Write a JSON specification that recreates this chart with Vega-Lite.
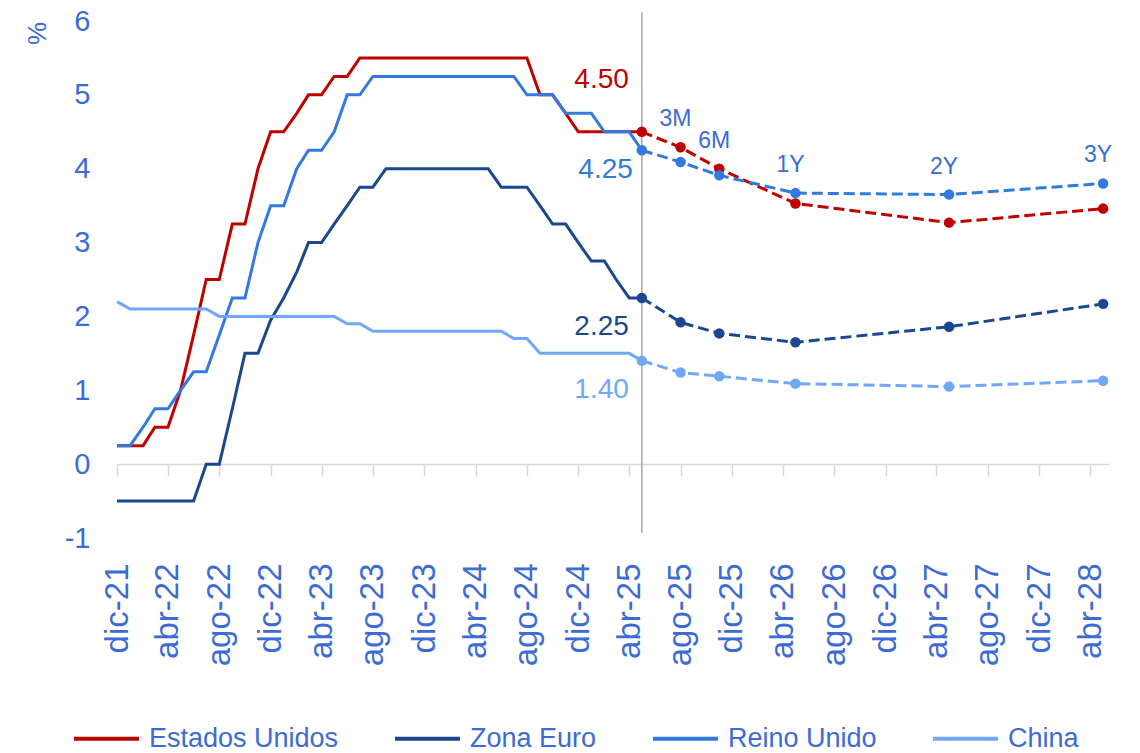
{
  "$schema": "https://vega.github.io/schema/vega-lite/v6.json",
  "width": 992,
  "height": 517,
  "autosize": {"type": "none"},
  "padding": {"left": 117, "top": 21, "right": 31, "bottom": 215},
  "background": "white",
  "config": {
    "font": "Liberation Sans",
    "view": {"stroke": null},
    "legend": {
      "orient": "none", "legendX": -45, "legendY": 683, "direction": "horizontal",
      "symbolType": "stroke", "symbolSize": 4225, "symbolStrokeWidth": 4,
      "labelFontSize": 27, "labelColor": "#3C6BD5", "labelOffset": 8,
      "columnPadding": 48, "labelLimit": 400
    }
  },
  "datasets": {
    "vline": [{"d": "2025-05-01", "v": 6.12, "v2": -0.93}],
    "hist": [
      {"d":"2021-12-01","s":"Estados Unidos","v":0.25},{"d":"2021-12-01","s":"Zona Euro","v":-0.5},{"d":"2021-12-01","s":"Reino Unido","v":0.25},{"d":"2021-12-01","s":"China","v":2.2},
      {"d":"2022-01-01","s":"Estados Unidos","v":0.25},{"d":"2022-01-01","s":"Zona Euro","v":-0.5},{"d":"2022-01-01","s":"Reino Unido","v":0.25},{"d":"2022-01-01","s":"China","v":2.1},
      {"d":"2022-02-01","s":"Estados Unidos","v":0.25},{"d":"2022-02-01","s":"Zona Euro","v":-0.5},{"d":"2022-02-01","s":"Reino Unido","v":0.5},{"d":"2022-02-01","s":"China","v":2.1},
      {"d":"2022-03-01","s":"Estados Unidos","v":0.5},{"d":"2022-03-01","s":"Zona Euro","v":-0.5},{"d":"2022-03-01","s":"Reino Unido","v":0.75},{"d":"2022-03-01","s":"China","v":2.1},
      {"d":"2022-04-01","s":"Estados Unidos","v":0.5},{"d":"2022-04-01","s":"Zona Euro","v":-0.5},{"d":"2022-04-01","s":"Reino Unido","v":0.75},{"d":"2022-04-01","s":"China","v":2.1},
      {"d":"2022-05-01","s":"Estados Unidos","v":1.0},{"d":"2022-05-01","s":"Zona Euro","v":-0.5},{"d":"2022-05-01","s":"Reino Unido","v":1.0},{"d":"2022-05-01","s":"China","v":2.1},
      {"d":"2022-06-01","s":"Estados Unidos","v":1.75},{"d":"2022-06-01","s":"Zona Euro","v":-0.5},{"d":"2022-06-01","s":"Reino Unido","v":1.25},{"d":"2022-06-01","s":"China","v":2.1},
      {"d":"2022-07-01","s":"Estados Unidos","v":2.5},{"d":"2022-07-01","s":"Zona Euro","v":0.0},{"d":"2022-07-01","s":"Reino Unido","v":1.25},{"d":"2022-07-01","s":"China","v":2.1},
      {"d":"2022-08-01","s":"Estados Unidos","v":2.5},{"d":"2022-08-01","s":"Zona Euro","v":0.0},{"d":"2022-08-01","s":"Reino Unido","v":1.75},{"d":"2022-08-01","s":"China","v":2.0},
      {"d":"2022-09-01","s":"Estados Unidos","v":3.25},{"d":"2022-09-01","s":"Zona Euro","v":0.75},{"d":"2022-09-01","s":"Reino Unido","v":2.25},{"d":"2022-09-01","s":"China","v":2.0},
      {"d":"2022-10-01","s":"Estados Unidos","v":3.25},{"d":"2022-10-01","s":"Zona Euro","v":1.5},{"d":"2022-10-01","s":"Reino Unido","v":2.25},{"d":"2022-10-01","s":"China","v":2.0},
      {"d":"2022-11-01","s":"Estados Unidos","v":4.0},{"d":"2022-11-01","s":"Zona Euro","v":1.5},{"d":"2022-11-01","s":"Reino Unido","v":3.0},{"d":"2022-11-01","s":"China","v":2.0},
      {"d":"2022-12-01","s":"Estados Unidos","v":4.5},{"d":"2022-12-01","s":"Zona Euro","v":1.95},{"d":"2022-12-01","s":"Reino Unido","v":3.5},{"d":"2022-12-01","s":"China","v":2.0},
      {"d":"2023-01-01","s":"Estados Unidos","v":4.5},{"d":"2023-01-01","s":"Zona Euro","v":2.25},{"d":"2023-01-01","s":"Reino Unido","v":3.5},{"d":"2023-01-01","s":"China","v":2.0},
      {"d":"2023-02-01","s":"Estados Unidos","v":4.75},{"d":"2023-02-01","s":"Zona Euro","v":2.6},{"d":"2023-02-01","s":"Reino Unido","v":4.0},{"d":"2023-02-01","s":"China","v":2.0},
      {"d":"2023-03-01","s":"Estados Unidos","v":5.0},{"d":"2023-03-01","s":"Zona Euro","v":3.0},{"d":"2023-03-01","s":"Reino Unido","v":4.25},{"d":"2023-03-01","s":"China","v":2.0},
      {"d":"2023-04-01","s":"Estados Unidos","v":5.0},{"d":"2023-04-01","s":"Zona Euro","v":3.0},{"d":"2023-04-01","s":"Reino Unido","v":4.25},{"d":"2023-04-01","s":"China","v":2.0},
      {"d":"2023-05-01","s":"Estados Unidos","v":5.25},{"d":"2023-05-01","s":"Zona Euro","v":3.25},{"d":"2023-05-01","s":"Reino Unido","v":4.5},{"d":"2023-05-01","s":"China","v":2.0},
      {"d":"2023-06-01","s":"Estados Unidos","v":5.25},{"d":"2023-06-01","s":"Zona Euro","v":3.5},{"d":"2023-06-01","s":"Reino Unido","v":5.0},{"d":"2023-06-01","s":"China","v":1.9},
      {"d":"2023-07-01","s":"Estados Unidos","v":5.5},{"d":"2023-07-01","s":"Zona Euro","v":3.75},{"d":"2023-07-01","s":"Reino Unido","v":5.0},{"d":"2023-07-01","s":"China","v":1.9},
      {"d":"2023-08-01","s":"Estados Unidos","v":5.5},{"d":"2023-08-01","s":"Zona Euro","v":3.75},{"d":"2023-08-01","s":"Reino Unido","v":5.25},{"d":"2023-08-01","s":"China","v":1.8},
      {"d":"2023-09-01","s":"Estados Unidos","v":5.5},{"d":"2023-09-01","s":"Zona Euro","v":4.0},{"d":"2023-09-01","s":"Reino Unido","v":5.25},{"d":"2023-09-01","s":"China","v":1.8},
      {"d":"2023-10-01","s":"Estados Unidos","v":5.5},{"d":"2023-10-01","s":"Zona Euro","v":4.0},{"d":"2023-10-01","s":"Reino Unido","v":5.25},{"d":"2023-10-01","s":"China","v":1.8},
      {"d":"2023-11-01","s":"Estados Unidos","v":5.5},{"d":"2023-11-01","s":"Zona Euro","v":4.0},{"d":"2023-11-01","s":"Reino Unido","v":5.25},{"d":"2023-11-01","s":"China","v":1.8},
      {"d":"2023-12-01","s":"Estados Unidos","v":5.5},{"d":"2023-12-01","s":"Zona Euro","v":4.0},{"d":"2023-12-01","s":"Reino Unido","v":5.25},{"d":"2023-12-01","s":"China","v":1.8},
      {"d":"2024-01-01","s":"Estados Unidos","v":5.5},{"d":"2024-01-01","s":"Zona Euro","v":4.0},{"d":"2024-01-01","s":"Reino Unido","v":5.25},{"d":"2024-01-01","s":"China","v":1.8},
      {"d":"2024-02-01","s":"Estados Unidos","v":5.5},{"d":"2024-02-01","s":"Zona Euro","v":4.0},{"d":"2024-02-01","s":"Reino Unido","v":5.25},{"d":"2024-02-01","s":"China","v":1.8},
      {"d":"2024-03-01","s":"Estados Unidos","v":5.5},{"d":"2024-03-01","s":"Zona Euro","v":4.0},{"d":"2024-03-01","s":"Reino Unido","v":5.25},{"d":"2024-03-01","s":"China","v":1.8},
      {"d":"2024-04-01","s":"Estados Unidos","v":5.5},{"d":"2024-04-01","s":"Zona Euro","v":4.0},{"d":"2024-04-01","s":"Reino Unido","v":5.25},{"d":"2024-04-01","s":"China","v":1.8},
      {"d":"2024-05-01","s":"Estados Unidos","v":5.5},{"d":"2024-05-01","s":"Zona Euro","v":4.0},{"d":"2024-05-01","s":"Reino Unido","v":5.25},{"d":"2024-05-01","s":"China","v":1.8},
      {"d":"2024-06-01","s":"Estados Unidos","v":5.5},{"d":"2024-06-01","s":"Zona Euro","v":3.75},{"d":"2024-06-01","s":"Reino Unido","v":5.25},{"d":"2024-06-01","s":"China","v":1.8},
      {"d":"2024-07-01","s":"Estados Unidos","v":5.5},{"d":"2024-07-01","s":"Zona Euro","v":3.75},{"d":"2024-07-01","s":"Reino Unido","v":5.25},{"d":"2024-07-01","s":"China","v":1.7},
      {"d":"2024-08-01","s":"Estados Unidos","v":5.5},{"d":"2024-08-01","s":"Zona Euro","v":3.75},{"d":"2024-08-01","s":"Reino Unido","v":5.0},{"d":"2024-08-01","s":"China","v":1.7},
      {"d":"2024-09-01","s":"Estados Unidos","v":5.0},{"d":"2024-09-01","s":"Zona Euro","v":3.5},{"d":"2024-09-01","s":"Reino Unido","v":5.0},{"d":"2024-09-01","s":"China","v":1.5},
      {"d":"2024-10-01","s":"Estados Unidos","v":5.0},{"d":"2024-10-01","s":"Zona Euro","v":3.25},{"d":"2024-10-01","s":"Reino Unido","v":5.0},{"d":"2024-10-01","s":"China","v":1.5},
      {"d":"2024-11-01","s":"Estados Unidos","v":4.75},{"d":"2024-11-01","s":"Zona Euro","v":3.25},{"d":"2024-11-01","s":"Reino Unido","v":4.75},{"d":"2024-11-01","s":"China","v":1.5},
      {"d":"2024-12-01","s":"Estados Unidos","v":4.5},{"d":"2024-12-01","s":"Zona Euro","v":3.0},{"d":"2024-12-01","s":"Reino Unido","v":4.75},{"d":"2024-12-01","s":"China","v":1.5},
      {"d":"2025-01-01","s":"Estados Unidos","v":4.5},{"d":"2025-01-01","s":"Zona Euro","v":2.75},{"d":"2025-01-01","s":"Reino Unido","v":4.75},{"d":"2025-01-01","s":"China","v":1.5},
      {"d":"2025-02-01","s":"Estados Unidos","v":4.5},{"d":"2025-02-01","s":"Zona Euro","v":2.75},{"d":"2025-02-01","s":"Reino Unido","v":4.5},{"d":"2025-02-01","s":"China","v":1.5},
      {"d":"2025-03-01","s":"Estados Unidos","v":4.5},{"d":"2025-03-01","s":"Zona Euro","v":2.5},{"d":"2025-03-01","s":"Reino Unido","v":4.5},{"d":"2025-03-01","s":"China","v":1.5},
      {"d":"2025-04-01","s":"Estados Unidos","v":4.5},{"d":"2025-04-01","s":"Zona Euro","v":2.25},{"d":"2025-04-01","s":"Reino Unido","v":4.5},{"d":"2025-04-01","s":"China","v":1.5},
      {"d":"2025-05-01","s":"Estados Unidos","v":4.5},{"d":"2025-05-01","s":"Zona Euro","v":2.25},{"d":"2025-05-01","s":"Reino Unido","v":4.25},{"d":"2025-05-01","s":"China","v":1.4}
    ],
    "fcst": [
      {"d":"2025-05-01","p":"","s":"Estados Unidos","v":4.5},{"d":"2025-05-01","p":"","s":"Zona Euro","v":2.25},{"d":"2025-05-01","p":"","s":"Reino Unido","v":4.25},{"d":"2025-05-01","p":"","s":"China","v":1.4},
      {"d":"2025-08-01","p":"3M","s":"Estados Unidos","v":4.29},{"d":"2025-08-01","p":"3M","s":"Zona Euro","v":1.92},{"d":"2025-08-01","p":"3M","s":"Reino Unido","v":4.09},{"d":"2025-08-01","p":"3M","s":"China","v":1.24},
      {"d":"2025-11-01","p":"6M","s":"Estados Unidos","v":4.0},{"d":"2025-11-01","p":"6M","s":"Zona Euro","v":1.77},{"d":"2025-11-01","p":"6M","s":"Reino Unido","v":3.91},{"d":"2025-11-01","p":"6M","s":"China","v":1.19},
      {"d":"2026-05-01","p":"1Y","s":"Estados Unidos","v":3.53},{"d":"2026-05-01","p":"1Y","s":"Zona Euro","v":1.65},{"d":"2026-05-01","p":"1Y","s":"Reino Unido","v":3.67},{"d":"2026-05-01","p":"1Y","s":"China","v":1.09},
      {"d":"2027-05-01","p":"2Y","s":"Estados Unidos","v":3.27},{"d":"2027-05-01","p":"2Y","s":"Zona Euro","v":1.86},{"d":"2027-05-01","p":"2Y","s":"Reino Unido","v":3.65},{"d":"2027-05-01","p":"2Y","s":"China","v":1.05},
      {"d":"2028-05-01","p":"3Y","s":"Estados Unidos","v":3.46},{"d":"2028-05-01","p":"3Y","s":"Zona Euro","v":2.17},{"d":"2028-05-01","p":"3Y","s":"Reino Unido","v":3.8},{"d":"2028-05-01","p":"3Y","s":"China","v":1.13}
    ]
  },
  "encoding": {
    "x": {
      "field": "d", "type": "temporal",
      "scale": {"type": "utc", "domain": [{"year": 2021, "month": 12, "date": 1, "utc": true}, {"year": 2028, "month": 5, "date": 15, "utc": true}], "nice": false},
      "axis": {
        "title": null, "grid": false, "offset": -74,
        "domainColor": "#D9D9D9", "domainWidth": 1.5, "tickColor": "#D9D9D9", "tickWidth": 1.5, "tickSize": 12,
        "labelAngle": -90, "labelAlign": "right", "labelBaseline": "middle", "labelPadding": 87,
        "labelFontSize": 33, "labelColor": "#3C6BD5", "labelOverlap": false, "labelBound": false, "labelFlush": false,
        "values": [
          {"year":2021,"month":12,"date":1,"utc":true},{"year":2022,"month":4,"date":1,"utc":true},{"year":2022,"month":8,"date":1,"utc":true},
          {"year":2022,"month":12,"date":1,"utc":true},{"year":2023,"month":4,"date":1,"utc":true},{"year":2023,"month":8,"date":1,"utc":true},
          {"year":2023,"month":12,"date":1,"utc":true},{"year":2024,"month":4,"date":1,"utc":true},{"year":2024,"month":8,"date":1,"utc":true},
          {"year":2024,"month":12,"date":1,"utc":true},{"year":2025,"month":4,"date":1,"utc":true},{"year":2025,"month":8,"date":1,"utc":true},
          {"year":2025,"month":12,"date":1,"utc":true},{"year":2026,"month":4,"date":1,"utc":true},{"year":2026,"month":8,"date":1,"utc":true},
          {"year":2026,"month":12,"date":1,"utc":true},{"year":2027,"month":4,"date":1,"utc":true},{"year":2027,"month":8,"date":1,"utc":true},
          {"year":2027,"month":12,"date":1,"utc":true},{"year":2028,"month":4,"date":1,"utc":true}
        ],
        "labelExpr": "['ene','feb','mar','abr','may','jun','jul','ago','sep','oct','nov','dic'][utcmonth(datum.value)] + '-' + utcFormat(datum.value, '%y')"
      }
    },
    "y": {
      "field": "v", "type": "quantitative",
      "scale": {"domain": [-1, 6], "nice": false, "zero": false},
      "axis": {
        "title": "%", "titleAngle": -90, "titleX": -80, "titleY": 12, "titleAlign": "center", "titleBaseline": "middle",
        "titleFontSize": 26, "titleFontWeight": "normal", "titleColor": "#3C6BD5",
        "values": [-1, 0, 1, 2, 3, 4, 5, 6], "domain": false, "ticks": false, "grid": false,
        "labelExpr": "'' + datum.value",
        "labelPadding": 27, "labelFontSize": 29, "labelColor": "#3C6BD5"
      }
    }
  },
  "layer": [
    {
      "data": {"name": "vline"},
      "mark": {"type": "rule", "color": "#A6A6A6", "strokeWidth": 1.5},
      "encoding": {
        "y2": {"field": "v2"}
      }
    },
    {
      "data": {"name": "hist"},
      "mark": {"type": "line", "strokeWidth": 3},
      "encoding": {
        "color": {
          "field": "s", "type": "nominal",
          "scale": {"domain": ["Estados Unidos", "Zona Euro", "Reino Unido", "China"], "range": ["#C00000", "#1B478F", "#3279E0", "#70A8F8"]},
          "legend": {"title": null}
        }
      }
    },
    {
      "data": {"name": "fcst"},
      "mark": {"type": "line", "strokeWidth": 3, "strokeDash": [11, 5]},
      "encoding": {"color": {"field": "s", "type": "nominal", "legend": null}}
    },
    {
      "data": {"name": "fcst"},
      "mark": {"type": "point", "filled": true, "size": 110, "opacity": 1},
      "encoding": {"color": {"field": "s", "type": "nominal", "legend": null}}
    },
    {
      "data": {"name": "fcst"},
      "transform": [
        {"joinaggregate": [{"op": "max", "field": "v", "as": "maxv"}], "groupby": ["d"]},
        {"filter": "datum.v == datum.maxv && datum.p != ''"}
      ],
      "mark": {"type": "text", "fontSize": 23, "color": "#3C6BD5", "dy": -28, "dx": -5, "baseline": "middle", "align": "center"},
      "encoding": {
        "text": {"field": "p"}
      }
    },
    {
      "data": {"name": "fcst"},
      "transform": [{"filter": "datum.p == '' && datum.s == 'Estados Unidos'"}],
      "mark": {"type": "text", "fontSize": 28, "align": "right", "baseline": "middle", "dx": -13, "dy": -52},
      "encoding": {
        "text": {"field": "v", "type": "quantitative", "format": ".2f"},
        "color": {"field": "s", "type": "nominal", "legend": null}
      }
    },
    {
      "data": {"name": "fcst"},
      "transform": [{"filter": "datum.p == '' && datum.s == 'Reino Unido'"}],
      "mark": {"type": "text", "fontSize": 28, "align": "right", "baseline": "middle", "dx": -9, "dy": 20},
      "encoding": {
        "text": {"field": "v", "type": "quantitative", "format": ".2f"},
        "color": {"field": "s", "type": "nominal", "legend": null}
      }
    },
    {
      "data": {"name": "fcst"},
      "transform": [{"filter": "datum.p == '' && (datum.s == 'Zona Euro' || datum.s == 'China')"}],
      "mark": {"type": "text", "fontSize": 28, "align": "right", "baseline": "middle", "dx": -13, "dy": 29},
      "encoding": {
        "text": {"field": "v", "type": "quantitative", "format": ".2f"},
        "color": {"field": "s", "type": "nominal", "legend": null}
      }
    }
  ]
}
